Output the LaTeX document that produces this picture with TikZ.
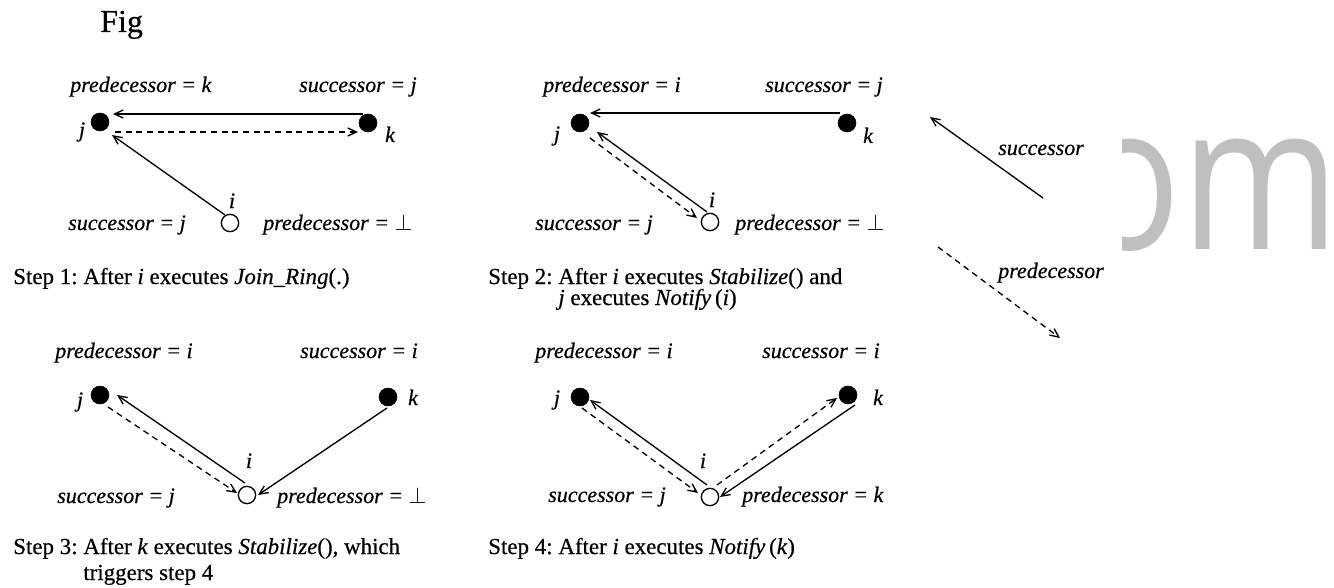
\documentclass[tikz,border=0pt]{standalone}
\usepackage{fontspec}
\setmainfont{Liberation Serif}[FakeBold=0.5]
\newfontfamily\wmfont{Open Sans}
\usetikzlibrary{arrows.meta}
\frenchspacing
\begin{document}
\frenchspacing
\begin{tikzpicture}[x=0.75pt,y=-0.75pt,
  lbl/.style={inner sep=0pt, font=\fontsize{16.5}{20}\selectfont\itshape},
  lw/.style={lbl, anchor=base west},
  le/.style={lbl, anchor=base east},
  lb/.style={lbl, anchor=base},
  captxt/.style={inner sep=0pt, font=\fontsize{17.2}{21}\selectfont, anchor=base west},
  full/.style={circle, fill=black, draw=black, minimum size=13.5pt, inner sep=0pt},
  hollow/.style={circle, fill=white, draw=black, line width=1pt, minimum size=13pt, inner sep=0pt},
  succ/.style={line width=1pt, -{Straight Barb[length=6.5pt,width=6pt]}},
  pred/.style={succ, dash pattern=on 4.5pt off 3.5pt},
]
\fill[white] (0,0) rectangle (1334,588);
\useasboundingbox (0,0) rectangle (1334,588);

% watermark
\begin{scope}
\clip (1122,0) rectangle (1334,588);
\node[inner sep=0pt, anchor=base east, text=black!25] (wm) at (1340,249)
  {\scalebox{0.84}[1]{\fontsize{152}{160}\wmfont om}};
\end{scope}

\node[inner sep=0pt, anchor=base west, font=\fontsize{24}{28}\selectfont] (fig) at (100,32) {Fig};

% ---------- Step 1 ----------
\node[full] (j1) at (100,122) {};
\node[full] (k1) at (368,123) {};
\node[hollow] (i1) at (230,223) {};
\node[lw] (p1) at (70,92) {predecessor = k};
\node[le] (s1) at (417,92) {successor = j};
\node[lb] (jl1) at (82,137) {j};
\node[lb] (kl1) at (390,142) {k};
\node[lb] (il1) at (232,208) {i};
\node[lw] (sb1) at (68,230) {successor = j};
\node[lw] (pb1) at (263,230) {predecessor = $\perp$};
\draw[succ] ([shift={(-5,-9)}]k1.center) -- ([shift={(13,-8)}]j1.center);
\draw[pred] ([shift={(15,10)}]j1.center) -- ([shift={(-10,9)}]k1.center);
\draw[succ] ([shift={(-5,-8)}]i1.center) -- ([shift={(12,13)}]j1.center);
\node[captxt] (c1) at (13,284) {Step 1: After \textit{i} executes \textit{Join\_Ring}(.)};

% ---------- Step 2 ----------
\node[full] (j2) at (580,123) {};
\node[full] (k2) at (847,123) {};
\node[hollow] (i2) at (710,222) {};
\node[lw] (p2) at (543,92) {predecessor = i};
\node[le] (s2) at (883,92) {successor = j};
\node[lb] (jl2) at (557,141) {j};
\node[lb] (kl2) at (868,143) {k};
\node[lb] (il2) at (712,207) {i};
\node[lw] (sb2) at (535,230) {successor = j};
\node[lw] (pb2) at (735,230) {predecessor = $\perp$};
\draw[succ] ([shift={(-7,-10)}]k2.center) -- ([shift={(10,-10)}]j2.center);
\draw[succ] ([shift={(-3,-10)}]i2.center) -- ([shift={(17,9)}]j2.center);
\draw[pred] ([shift={(10,15)}]j2.center) -- ([shift={(-13,-4)}]i2.center);
\node[captxt] (c2) at (488,284) {Step 2: After \textit{i} executes \textit{Stabilize}() and};
\node[captxt] (c2b) at (488,305) {\phantom{Step 2: }\textit{j} executes \textit{Notify}\,(\textit{i})};

% ---------- Step 3 ----------
\node[full] (j3) at (100,395) {};
\node[full] (k3) at (388,397) {};
\node[hollow] (i3) at (247,495) {};
\node[lw] (p3) at (55,358) {predecessor = i};
\node[le] (s3) at (418,358) {successor = i};
\node[lb] (jl3) at (80,407) {j};
\node[lb] (kl3) at (413,405) {k};
\node[lb] (il3) at (249,468) {i};
\node[lw] (sb3) at (57,503) {successor = j};
\node[lw] (pb3) at (277,503) {predecessor = $\perp$};
\draw[succ] ([shift={(-2,-12)}]i3.center) -- ([shift={(17,0)}]j3.center);
\draw[pred] ([shift={(8,12)}]j3.center) -- ([shift={(-10,-2)}]i3.center);
\draw[succ] ([shift={(-1,11)}]k3.center) -- ([shift={(11,0)}]i3.center);
\node[captxt] (c3) at (13,554) {Step 3: After \textit{k} executes \textit{Stabilize}(), which};
\node[captxt] (c3b) at (13,580) {\phantom{Step 3: }triggers step 4};

% ---------- Step 4 ----------
\node[full] (j4) at (580,397) {};
\node[full] (k4) at (848,395) {};
\node[hollow] (i4) at (710,497) {};
\node[lw] (p4) at (535,358) {predecessor = i};
\node[le] (s4) at (880,358) {successor = i};
\node[lb] (jl4) at (557,405) {j};
\node[lb] (kl4) at (878,405) {k};
\node[lb] (il4) at (703,468) {i};
\node[lw] (sb4) at (548,502) {successor = j};
\node[lw] (pb4) at (742,502) {predecessor = k};
\draw[succ] ([shift={(-3,-12)}]i4.center) -- ([shift={(10,3)}]j4.center);
\draw[pred] ([shift={(2,11)}]j4.center) -- ([shift={(-12,-4)}]i4.center);
\draw[pred] ([shift={(7,-12)}]i4.center) -- ([shift={(-11,3)}]k4.center);
\draw[succ] ([shift={(7,10)}]k4.center) -- ([shift={(10,0)}]i4.center);
\node[captxt] (c4) at (488,554) {Step 4: After \textit{i} executes \textit{Notify}\,(\textit{k})};

% ---------- Legend ----------
\coordinate (ls1) at (1043,198);
\coordinate (ls2) at (930,117);
\coordinate (lp1) at (938,247);
\coordinate (lp2) at (1060,338);
\draw[succ] (ls1) -- (ls2);
\draw[pred] (lp1) -- (lp2);
\node[lw] (lsl) at (998,155) {successor};
\node[lw] (lpl) at (998,278) {predecessor};
\end{tikzpicture}
\end{document}
